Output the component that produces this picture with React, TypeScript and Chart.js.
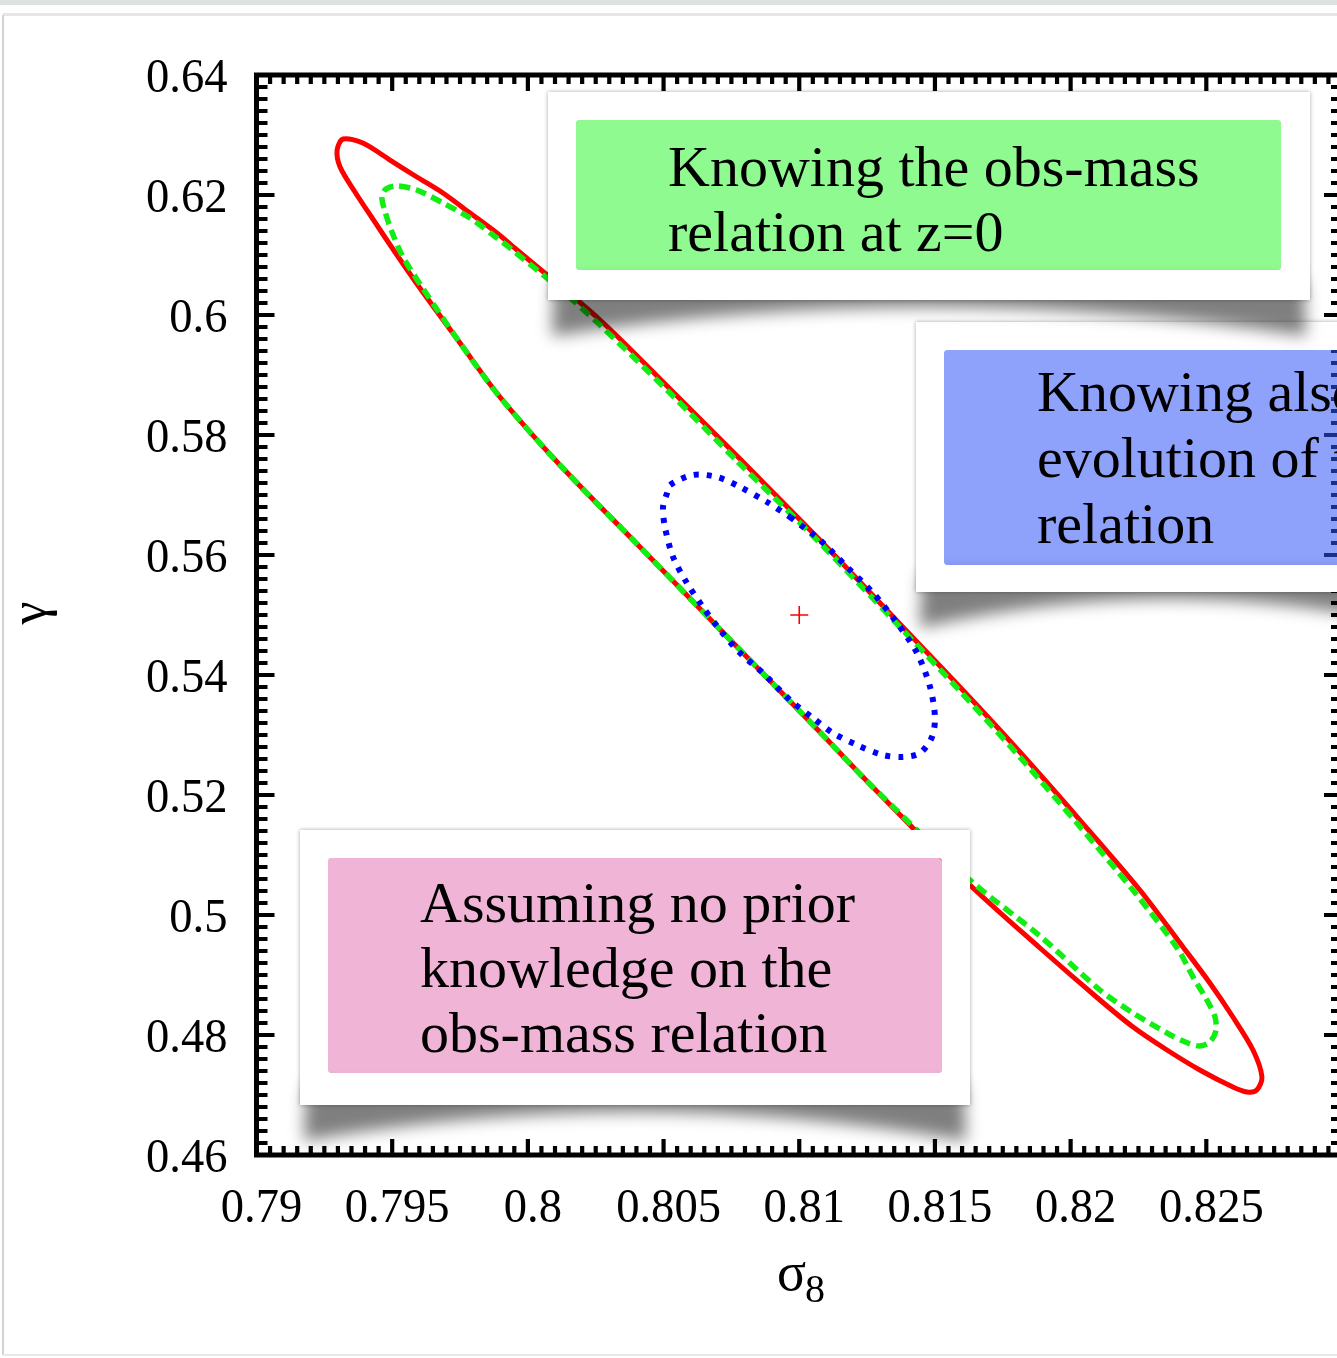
import { useEffect, useRef } from "react";
import { Chart, registerables } from "chart.js";

Chart.register(...registerables);

// 68% confidence contours in the (sigma_8, gamma) plane.
// No prior knowledge on the obs-mass relation (solid red)
const redSigma8 = [
  0.80782, 0.81076, 0.81371, 0.81592, 0.81813, 0.82034, 0.82255, 0.82414, 0.82513, 0.82598,
  0.82672, 0.82705, 0.82686, 0.8265, 0.82598, 0.82476, 0.82355, 0.8223, 0.82108, 0.81887,
  0.81629, 0.81249, 0.81076, 0.80929, 0.80782, 0.8066, 0.80535, 0.80413, 0.80118, 0.79897,
  0.7975, 0.79602, 0.7951, 0.79426, 0.79363, 0.79308, 0.79297, 0.79319, 0.79392, 0.79492,
  0.79591, 0.79687, 0.79787, 0.79886, 0.7996, 0.80266, 0.80524,
];
const redGamma = [
  0.576, 0.5625, 0.5485, 0.538, 0.52717, 0.51583, 0.50417, 0.49467, 0.48867, 0.483,
  0.4775, 0.473, 0.47083, 0.4705, 0.47133, 0.47417, 0.4775, 0.48133, 0.48583, 0.4945,
  0.505, 0.52233, 0.5305, 0.53733, 0.54417, 0.54983, 0.55567, 0.56133, 0.575, 0.58633,
  0.59533, 0.6045, 0.6105, 0.61617, 0.6205, 0.62467, 0.6275, 0.62933, 0.62867, 0.62583,
  0.623, 0.62033, 0.617, 0.61367, 0.61083, 0.59917, 0.58767,
];

// Obs-mass relation known at z=0 (dashed green)
const greenSigma8 = [
  0.80774, 0.81069, 0.81364, 0.81585, 0.81806, 0.82023, 0.82241, 0.82395, 0.82451, 0.82502,
  0.82532, 0.82535, 0.82513, 0.82476, 0.82432, 0.82355, 0.8223, 0.82108, 0.81887, 0.81629,
  0.81249, 0.81076, 0.80929, 0.80782, 0.8066, 0.80535, 0.80413, 0.80118, 0.79897, 0.7975,
  0.79617, 0.7954, 0.79499, 0.79474, 0.79462, 0.79477, 0.79518, 0.79591, 0.79687, 0.79787,
  0.79886, 0.79934, 0.80118, 0.80258, 0.80516,
];
const greenGamma = [
  0.5755, 0.56233, 0.54833, 0.53767, 0.52667, 0.51533, 0.5035, 0.49433, 0.48967, 0.48583,
  0.483, 0.48067, 0.47883, 0.47817, 0.47867, 0.48033, 0.48367, 0.4875, 0.4965, 0.50583,
  0.52233, 0.5305, 0.53733, 0.54417, 0.54983, 0.55567, 0.56133, 0.575, 0.58633, 0.59533,
  0.60417, 0.60967, 0.61383, 0.61717, 0.61967, 0.621, 0.6215, 0.62083, 0.61867, 0.61617,
  0.61283, 0.61117, 0.60433, 0.59867, 0.58733,
];

// Evolution of the relation also known (dotted blue)
const blueSigma8 = [
  0.80966, 0.81076, 0.81176, 0.81272, 0.8136, 0.81434, 0.81482, 0.815, 0.81489, 0.81445,
  0.81382, 0.81308, 0.81213, 0.81124, 0.81051, 0.80966, 0.80866, 0.80782, 0.80708, 0.80645,
  0.80586, 0.80535, 0.80505, 0.80498, 0.80513, 0.80524, 0.80608, 0.80697, 0.80782, 0.80881,
];
const blueGamma = [
  0.56633, 0.5625, 0.558, 0.55367, 0.54867, 0.54367, 0.538, 0.533, 0.52967, 0.527,
  0.52633, 0.52667, 0.52833, 0.53033, 0.53283, 0.53583, 0.54033, 0.54367, 0.5475, 0.55133,
  0.55533, 0.55967, 0.56467, 0.568, 0.57033, 0.57167, 0.57333, 0.573, 0.57133, 0.56883,
];

// Fiducial model
const fiducialSigma8 = [0.81];
const fiducialGamma = [0.55];

const xTickLabels = ["0.79", "0.795", "0.8", "0.805", "0.81", "0.815", "0.82", "0.825"];
const yTickLabels = ["0.46", "0.48", "0.5", "0.52", "0.54", "0.56", "0.58", "0.6", "0.62", "0.64"];

const greenNoteLines = ["Knowing the obs-mass", "relation at z=0"];
const blueNoteLines = ["Knowing also the", "evolution of the", "relation"];
const pinkNoteLines = ["Assuming no prior", "knowledge on the", "obs-mass relation"];

const X_MIN = 0.79;
const X_MAX = 0.83;
const Y_MIN = 0.46;
const Y_MAX = 0.64;

const CANVAS_W = 1440;
const CANVAS_H = 1358;

type Callout = {
  frame: [number, number, number, number];
  box: [number, number, number, number];
  fill: string;
  lines: string[];
  textX: number;
  baseline: number;
  lineGap: number;
};

// drawn in this order: later ones sit on top
const callouts: Callout[] = [
  {
    frame: [300, 830, 970, 1105],
    box: [328, 858, 942, 1073],
    fill: "rgba(228,119,180,0.55)",
    lines: pinkNoteLines,
    textX: 420,
    baseline: 922,
    lineGap: 65,
  },
  {
    frame: [916, 322, 1425, 592],
    box: [944, 350, 1405, 565],
    fill: "rgba(51,86,248,0.55)",
    lines: blueNoteLines,
    textX: 1037,
    baseline: 411,
    lineGap: 66,
  },
  {
    frame: [548, 92, 1310, 300],
    box: [576, 120, 1281, 270],
    fill: "rgba(51,246,51,0.55)",
    lines: greenNoteLines,
    textX: 668,
    baseline: 186,
    lineGap: 65,
  },
];

const SERIF = '"Liberation Serif", "Times New Roman", serif';

function toPoints(xs: number[], ys: number[]) {
  const pts = xs.map((x, i) => ({ x, y: ys[i] }));
  if (pts.length > 2) pts.push({ ...pts[0] });
  return pts;
}

function drawCallout(ctx: CanvasRenderingContext2D, c: Callout, w: number, h: number) {
  const [fx0, fy0, fx1, fy1] = c.frame;
  const [bx0, by0, bx1, by1] = c.box;

  // curved shadow with lifted corners
  ctx.save();
  ctx.filter = "blur(8px)";
  ctx.fillStyle = "rgba(0,0,0,0.5)";
  ctx.beginPath();
  ctx.moveTo(fx0 + 6, fy1 - 20);
  ctx.lineTo(fx1 - 6, fy1 - 20);
  ctx.lineTo(fx1 - 4, fy1 + 36);
  ctx.quadraticCurveTo((fx0 + fx1) / 2, fy1 - 22, fx0 + 4, fy1 + 36);
  ctx.closePath();
  ctx.fill();
  ctx.restore();

  // white mat around the coloured panel
  ctx.save();
  ctx.beginPath();
  ctx.rect(0, 0, w, h);
  ctx.roundRect(bx0, by0, bx1 - bx0, by1 - by0, 4);
  ctx.clip("evenodd");
  ctx.shadowColor = "rgba(0,0,0,0.35)";
  ctx.shadowBlur = 4;
  ctx.fillStyle = "#ffffff";
  ctx.fillRect(fx0, fy0, fx1 - fx0, fy1 - fy0);
  ctx.restore();

  // translucent coloured panel
  ctx.save();
  ctx.fillStyle = c.fill;
  ctx.beginPath();
  ctx.roundRect(bx0, by0, bx1 - bx0, by1 - by0, 4);
  ctx.fill();
  ctx.restore();

  // text
  ctx.save();
  ctx.fillStyle = "#000";
  ctx.font = `58px ${SERIF}`;
  ctx.textAlign = "left";
  ctx.textBaseline = "alphabetic";
  c.lines.forEach((line, i) => {
    ctx.fillText(line, c.textX, c.baseline + i * c.lineGap);
  });
  ctx.restore();
}

const figurePlugin = {
  id: "figureDecor",
  beforeDraw(chart: Chart) {
    const { ctx, width, height } = chart;
    ctx.save();
    ctx.fillStyle = "#ffffff";
    ctx.fillRect(0, 0, width, height);
    // page edges
    ctx.fillStyle = "#dde1e2";
    ctx.fillRect(0, 0, width, 5);
    ctx.fillStyle = "#e6e6e6";
    ctx.fillRect(3, 13, width, 3);
    ctx.fillStyle = "#d2d2d2";
    ctx.fillRect(2, 15, 2, 1340);
    ctx.fillStyle = "#e8e8e8";
    ctx.fillRect(3, 1354, width, 2);
    ctx.restore();
  },
  beforeDatasetsDraw(chart: Chart) {
    const { ctx, chartArea: a } = chart;
    const xs = chart.scales.x;
    const ys = chart.scales.y;
    ctx.save();
    ctx.strokeStyle = "#000";
    ctx.lineCap = "butt";
    ctx.lineWidth = 4.2;
    ctx.beginPath();
    const nx = Math.round((X_MAX - X_MIN) / 0.0005);
    for (let i = 0; i <= nx; i++) {
      const px = xs.getPixelForValue(X_MIN + i * 0.0005);
      const len = i % 10 === 0 ? 16 : 9;
      ctx.moveTo(px, a.bottom);
      ctx.lineTo(px, a.bottom - len);
      ctx.moveTo(px, a.top);
      ctx.lineTo(px, a.top + len);
    }
    const ny = Math.round((Y_MAX - Y_MIN) / 0.002);
    for (let i = 0; i <= ny; i++) {
      const py = ys.getPixelForValue(Y_MIN + i * 0.002);
      const len = i % 10 === 0 ? 18 : 11;
      ctx.moveTo(a.left, py);
      ctx.lineTo(a.left + len, py);
      ctx.moveTo(a.right, py);
      ctx.lineTo(a.right - len, py);
    }
    ctx.stroke();
    ctx.lineWidth = 5;
    ctx.strokeRect(a.left, a.top, a.right - a.left, a.bottom - a.top);
    ctx.restore();
  },
  afterDatasetsDraw(chart: Chart) {
    const { ctx, width, height } = chart;
    callouts.forEach((c) => drawCallout(ctx, c, width, height));
  },
  afterDraw(chart: Chart) {
    const { ctx, chartArea: a } = chart;
    const xs = chart.scales.x;
    const ys = chart.scales.y;
    ctx.save();
    ctx.fillStyle = "#000";
    ctx.font = `49px ${SERIF}`;
    ctx.textBaseline = "alphabetic";

    yTickLabels.forEach((t) => {
      const py = ys.getPixelForValue(parseFloat(t));
      ctx.save();
      ctx.translate(a.left - 29, py + 17);
      ctx.scale(0.95, 1);
      ctx.textAlign = "right";
      ctx.fillText(t, 0, 0);
      ctx.restore();
    });

    xTickLabels.forEach((t) => {
      const px = xs.getPixelForValue(parseFloat(t));
      ctx.save();
      ctx.translate(px + 5, a.bottom + 67);
      ctx.scale(0.95, 1);
      ctx.textAlign = "center";
      ctx.fillText(t, 0, 0);
      ctx.restore();
    });

    // y-axis title
    ctx.save();
    ctx.translate(46, (a.top + a.bottom) / 2 - 2);
    ctx.rotate(-Math.PI / 2);
    ctx.font = `52px ${SERIF}`;
    ctx.textAlign = "center";
    ctx.fillText("γ", 0, 0);
    ctx.restore();

    // x-axis title: sigma with subscript 8
    ctx.save();
    ctx.textAlign = "left";
    ctx.font = `54px ${SERIF}`;
    ctx.fillText("σ", 777, 1290);
    ctx.font = `40px ${SERIF}`;
    ctx.fillText("8", 805, 1302);
    ctx.restore();

    ctx.restore();
  },
};

export default function App() {
  const canvasRef = useRef<HTMLCanvasElement | null>(null);

  useEffect(() => {
    const canvas = canvasRef.current;
    if (!canvas) return;

    const chart = new Chart(canvas, {
      type: "scatter",
      data: {
        datasets: [
          {
            label: "fiducial",
            data: toPoints(fiducialSigma8, fiducialGamma),
            showLine: false,
            pointStyle: "cross",
            pointRadius: 9,
            pointHoverRadius: 9,
            borderColor: "#ff0000",
            backgroundColor: "#ff0000",
            borderWidth: 1.6,
            order: 1,
          },
          {
            label: "evolution known",
            data: toPoints(blueSigma8, blueGamma),
            showLine: true,
            borderColor: "#0000ff",
            borderWidth: 6,
            borderDash: [5, 8],
            borderJoinStyle: "round",
            tension: 0.3,
            pointRadius: 0,
            pointHoverRadius: 0,
            order: 2,
          },
          {
            label: "z=0 relation known",
            data: toPoints(greenSigma8, greenGamma),
            showLine: true,
            borderColor: "#11ee11",
            borderWidth: 5.5,
            borderDash: [11, 6],
            borderJoinStyle: "round",
            tension: 0.3,
            pointRadius: 0,
            pointHoverRadius: 0,
            order: 3,
          },
          {
            label: "no prior",
            data: toPoints(redSigma8, redGamma),
            showLine: true,
            borderColor: "#ff0000",
            borderWidth: 5,
            borderJoinStyle: "round",
            tension: 0.3,
            pointRadius: 0,
            pointHoverRadius: 0,
            order: 4,
          },
        ],
      },
      options: {
        responsive: false,
        maintainAspectRatio: false,
        animation: false,
        events: [],
        layout: {
          padding: {
            left: 256.5,
            top: 75,
            right: CANVAS_W - 1342,
            bottom: CANVAS_H - 1155,
          },
        },
        plugins: {
          legend: { display: false },
          tooltip: { enabled: false },
        },
        scales: {
          x: { type: "linear", min: X_MIN, max: X_MAX, display: false },
          y: { type: "linear", min: Y_MIN, max: Y_MAX, display: false },
        },
      },
      plugins: [figurePlugin],
    });

    return () => chart.destroy();
  }, []);

  return (
    <div
      style={{
        position: "fixed",
        left: 0,
        top: 0,
        width: 1337,
        height: 1358,
        overflow: "hidden",
        background: "#ffffff",
      }}
    >
      <canvas
        ref={canvasRef}
        width={CANVAS_W}
        height={CANVAS_H}
        style={{ display: "block", width: CANVAS_W, height: CANVAS_H }}
      />
    </div>
  );
}
